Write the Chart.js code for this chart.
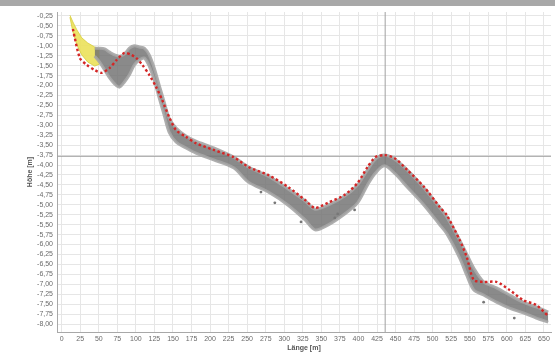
<!DOCTYPE html>
<html>
<head>
<meta charset="utf-8">
<script src="https://cdn.jsdelivr.net/npm/chart.js@4.4.0/dist/chart.umd.min.js"></script>
<style>
  html, body { margin: 0; padding: 0; background: #fff; }
  #wrap { width: 555px; height: 352px; }
  #bar { position: absolute; left: 0; top: 0; width: 555px; height: 6px; background: #a8a8a8; }
</style>
</head>
<body>
<div id="wrap"><canvas id="grafico" width="555" height="352"></canvas></div>
<div id="bar"></div>
<script>
// rote Messlinie
const redX = [15.1, 24.5, 33.8, 44.5, 53.9, 64.6, 73.9, 84.6, 94.0, 100.7, 108.7, 118.0, 127.4, 135.4, 144.8, 154.1, 167.5, 180.9, 204.9, 231.7, 251.7, 278.5, 305.2, 328.1, 341.4, 358.7, 381.4, 398.8, 412.2, 422.9, 434.9, 448.3, 465.6, 488.4, 509.8, 519.1, 536.5, 545.9, 555.3, 568.7, 586.1, 603.5, 622.2, 639.6, 655.7];
const redY = [-0.58, -1.31, -1.48, -1.61, -1.68, -1.56, -1.36, -1.18, -1.23, -1.31, -1.48, -1.73, -2.04, -2.36, -2.79, -3.12, -3.29, -3.45, -3.62, -3.80, -4.05, -4.25, -4.55, -4.88, -5.08, -4.95, -4.75, -4.45, -4.05, -3.80, -3.75, -3.82, -4.12, -4.55, -5.06, -5.26, -5.89, -6.31, -6.89, -6.94, -6.94, -7.14, -7.40, -7.52, -7.80];

// graue Punktwolke (obere / untere Kante)
const greyX = [44.5, 51.2, 57.9, 64.6, 71.3, 77.9, 84.6, 91.3, 98.0, 104.7, 111.4, 118.0, 124.7, 131.4, 138.1, 144.8, 154.1, 167.5, 180.9, 204.9, 231.7, 251.7, 278.5, 305.2, 328.1, 341.4, 358.7, 381.4, 398.8, 412.2, 422.9, 434.9, 448.3, 465.6, 488.4, 509.8, 519.1, 536.5, 545.9, 555.3, 568.7, 586.1, 603.5, 622.2, 639.6, 655.7];
const greyTop = [-1.06, -1.06, -1.08, -1.16, -1.23, -1.26, -1.21, -1.06, -1.00, -1.03, -1.06, -1.23, -1.56, -1.99, -2.41, -2.82, -3.07, -3.27, -3.40, -3.57, -3.80, -4.05, -4.28, -4.60, -4.90, -5.11, -5.01, -4.78, -4.50, -4.12, -3.85, -3.75, -3.85, -4.12, -4.58, -5.08, -5.31, -5.89, -6.24, -6.59, -6.94, -7.09, -7.27, -7.45, -7.57, -7.70];
const greyBottom = [-1.26, -1.41, -1.61, -1.81, -1.96, -2.04, -1.91, -1.73, -1.48, -1.36, -1.31, -1.51, -1.86, -2.31, -2.74, -3.17, -3.42, -3.57, -3.70, -3.87, -4.07, -4.43, -4.68, -5.01, -5.38, -5.63, -5.51, -5.23, -4.95, -4.50, -4.20, -4.02, -4.20, -4.55, -5.01, -5.51, -5.73, -6.34, -6.77, -7.14, -7.27, -7.45, -7.60, -7.72, -7.85, -7.95];

// gelber Anfangsbereich
const yellowX = [11.1, 15.1, 20.5, 27.1, 35.2, 44.5, 51.2];
const yellowTop = [-0.23, -0.40, -0.60, -0.80, -0.93, -1.03, -1.08];
const yellowBottom = [-0.28, -0.65, -0.98, -1.23, -1.41, -1.51, -1.46];

// Ausreißer
const outX = [268.6, 287.3, 322.6, 368.0, 372.0, 394.8, 568.7, 610.0];
const outY = [-4.68, -4.95, -5.43, -5.33, -5.23, -5.13, -7.45, -7.85];

// Fadenkreuz
const crossX = 436;
const crossY = -3.78;

const xMin = -6.3, xMax = 659.5;
const yMin = -8.2, yMax = -0.15;

const xTicks = [0, 25, 50, 75, 100, 125, 150, 175, 200, 225, 250, 275, 300, 325, 350, 375, 400, 425, 450, 475, 500, 525, 550, 575, 600, 625, 650];
const yTicks = [-0.25, -0.5, -0.75, -1.0, -1.25, -1.5, -1.75, -2.0, -2.25, -2.5, -2.75, -3.0, -3.25, -3.5, -3.75, -4.0, -4.25, -4.5, -4.75, -5.0, -5.25, -5.5, -5.75, -6.0, -6.25, -6.5, -6.75, -7.0, -7.25, -7.5, -7.75, -8.0];

const pts = (xs, ys) => xs.map((x, i) => ({ x: x, y: ys[i] }));

const ctx = document.getElementById("grafico").getContext("2d");
new Chart(ctx, {
  type: "line",
  data: {
    datasets: [
      {
        data: [{ x: crossX, y: yMin }, { x: crossX, y: yMax }],
        borderColor: "#a0a0a0", borderWidth: 1, pointRadius: 0, order: 10,
      },
      {
        data: [{ x: xMin, y: crossY }, { x: xMax, y: crossY }],
        borderColor: "#a0a0a0", borderWidth: 1, pointRadius: 0, order: 10,
      },
      {
        data: pts(yellowX, yellowTop),
        borderColor: "rgba(215,205,60,0.8)", borderWidth: 1, pointRadius: 0, order: 5,
      },
      {
        data: pts(yellowX, yellowBottom),
        borderColor: "rgba(215,205,60,0.8)", borderWidth: 1, pointRadius: 0,
        fill: "-1", backgroundColor: "rgba(235,225,90,0.9)", order: 5,
      },
      {
        data: pts(greyX, greyTop),
        borderColor: "rgba(165,165,165,0.9)", borderWidth: 3, pointRadius: 0, tension: 0.3, order: 4,
      },
      {
        data: pts(greyX, greyBottom),
        borderColor: "rgba(165,165,165,0.9)", borderWidth: 3, pointRadius: 0, tension: 0.3,
        fill: "-1", backgroundColor: "rgba(112,112,112,0.82)", order: 4,
      },
      {
        data: pts(outX, outY),
        showLine: false, pointRadius: 1.4, pointBackgroundColor: "#777", pointBorderWidth: 0, order: 3,
      },
      {
        data: pts(redX, redY),
        borderColor: "#d42626", borderWidth: 2.4, borderDash: [2.5, 2.5], pointRadius: 0, tension: 0.25, order: 1,
      },
    ],
  },
  options: {
    responsive: false,
    animation: false,
    devicePixelRatio: 1,
    layout: { padding: { top: 12, right: 0, left: 0, bottom: 0 } },
    plugins: { legend: { display: false }, tooltip: { enabled: false } },
    scales: {
      x: {
        type: "linear", min: xMin, max: xMax,
        afterBuildTicks: (s) => { s.ticks = xTicks.map((v) => ({ value: v })); },
        afterFit: (s) => { s.height = 20; },
        grid: { color: "#e6e6e6", drawTicks: false },
        border: { color: "#a8a8a8" },
        ticks: { padding: 3, maxRotation: 0, autoSkip: false, color: "#6a6a6a", font: { family: "Liberation Sans", size: 7 } },
        title: { display: true, text: "Länge [m]", color: "#555", padding: { top: 1, bottom: 0 }, font: { family: "Liberation Sans", size: 7, weight: "bold" } },
      },
      y: {
        type: "linear", min: yMin, max: yMax,
        afterBuildTicks: (s) => { s.ticks = yTicks.map((v) => ({ value: v })); },
        afterFit: (s) => { s.width = 57; },
        grid: { color: "#e6e6e6", drawTicks: false },
        border: { color: "#a8a8a8" },
        ticks: {
          padding: 4, autoSkip: false, color: "#6a6a6a", font: { family: "Liberation Sans", size: 7 },
          callback: (v) => v.toFixed(2).replace(".", ","),
        },
        title: { display: true, text: "Höhe [m]", color: "#555", padding: { top: 26, bottom: 0 }, font: { family: "Liberation Sans", size: 7, weight: "bold" } },
      },
    },
  },
});
</script>
</body>
</html>
